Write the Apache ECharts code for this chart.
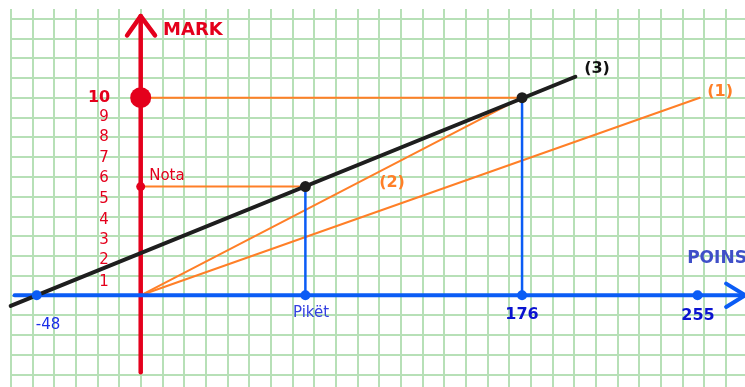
<!DOCTYPE html>
<html>
<head>
<meta charset="utf-8">
<script src="https://cdn.jsdelivr.net/npm/echarts@6/dist/echarts.min.js"></script>
<style>
  html, body { margin: 0; padding: 0; background: #fff; }
  #chart { width: 745px; height: 387px; }
</style>
</head>
<body>
<div id="chart"></div>
<script>
// valeurs (x = points, y = note)
const yTickText = ['1', '2', '3', '4', '5', '6', '7', '8', '9']
const yTickPos = [0.69, 1.79, 2.8, 3.81, 4.87, 5.92, 6.93, 8.0, 9.04]
const xMarkText = ['-48', 'Pikët', '176', '255']
const xMarkPos = [-48, 76, 176, 257]
const xLabelPos = [[-42.8, -1.5], [78.6, -0.9], [176, -1.0], [257.2, -1.05]]

const line1 = [[0, 0], [258, 10]]
const line2 = [[0, 0], [176, 10]]
const line3 = [[-60, -0.54], [200.6, 11.06]]
const notaPoint = [76, 5.5]
const maxPoint = [176, 10]

const yAxisLine = [[0, -3.9], [0, 14.13]]
const yArrow = [[-6.3, 13.15], [0, 14.13], [6.6, 13.15]]
const xAxisLine = [[-58.2, 0], [279, 0]]
const xArrow = [[270.2, 0.59], [279, 0], [270.2, -0.59]]

const RED = '#e4001c'
const ORANGE = '#ff7f27'
const BLUE = '#0b5cf5'
const FONT = 'DejaVu Sans'

const chart = echarts.init(document.getElementById('chart'))

const seg = (data, color, width, z) => ({
  type: 'line',
  data,
  symbol: 'none',
  silent: true,
  z,
  lineStyle: { color, width, cap: 'round', join: 'round' }
})

const txt = (value, text, style) => ({
  value,
  label: Object.assign({
    show: true,
    formatter: text,
    position: 'inside',
    align: 'center',
    verticalAlign: 'middle',
    fontFamily: FONT
  }, style)
})

const labels = [
  txt([24.1, 13.43], 'MARK', { color: RED, fontSize: 18, fontWeight: 'bold' }),
  txt([-19.2, 10], '10', { color: RED, fontSize: 16, fontWeight: 'bold' }),
  txt([12.1, 6.05], 'Nota', { color: RED, fontSize: 15 }),
  txt([252.2, 1.84], 'POINS', { color: '#3f4fc8', fontSize: 17, fontWeight: 'bold', align: 'left' }),
  txt([267.4, 10.29], '(1)', { color: ORANGE, fontSize: 16, fontWeight: 'bold' }),
  txt([116, 5.68], '(2)', { color: ORANGE, fontSize: 16, fontWeight: 'bold' }),
  txt([210.6, 11.45], '(3)', { color: '#111', fontSize: 16, fontWeight: 'bold' })
]
yTickText.forEach((t, i) => {
  labels.push(txt([-16.9, yTickPos[i]], t, { color: RED, fontSize: 15 }))
})
xMarkText.forEach((t, i) => {
  const bold = i >= 2
  labels.push(txt(xLabelPos[i], t, {
    color: bold ? '#0a14d0' : (i === 1 ? '#3340e0' : '#1a2ee8'),
    fontSize: bold ? 16 : 15,
    fontWeight: bold ? 'bold' : 'normal'
  }))
})

chart.setOption({
  animation: false,
  grid: { left: 10.7, top: -1.1, width: 736.7, height: 395.2, outerBoundsMode: 'none' },
  xAxis: {
    type: 'value', min: -60, max: 280, interval: 10,
    axisLine: { show: false }, axisTick: { show: false }, axisLabel: { show: false },
    splitLine: { show: true, lineStyle: { color: '#b7e0b7', width: 2 } }
  },
  yAxis: {
    type: 'value', min: -5, max: 15, interval: 1,
    axisLine: { show: false }, axisTick: { show: false }, axisLabel: { show: false },
    splitLine: { show: true, lineStyle: { color: '#b7e0b7', width: 2 } }
  },
  graphic: [{
    type: 'rect', z: 100, silent: true,
    shape: { x: 0, y: 0, width: 745, height: 9 },
    style: { fill: '#fff' }
  }],
  series: [
    seg(line1, ORANGE, 2, 2),
    seg(line2, ORANGE, 2, 2),
    seg([[0, maxPoint[1]], maxPoint], ORANGE, 2, 2),
    seg([[0, notaPoint[1]], notaPoint], ORANGE, 2, 2),
    seg([[notaPoint[0], 0], notaPoint], BLUE, 2.5, 2),
    seg([[maxPoint[0], 0], maxPoint], BLUE, 2.5, 2),
    seg(yAxisLine, RED, 4.5, 3),
    seg(yArrow, RED, 4.5, 3),
    seg(xAxisLine, BLUE, 4, 4),
    seg(xArrow, BLUE, 4, 4),
    seg(line3, '#1e1e1e', 4, 5),
    {
      type: 'scatter', z: 6, silent: true,
      symbolSize: 10,
      itemStyle: { color: BLUE, opacity: 1 },
      data: xMarkPos.map(x => [x, 0])
    },
    {
      type: 'scatter', z: 6, silent: true,
      symbolSize: 11,
      itemStyle: { color: '#1e1e1e', opacity: 1 },
      data: [notaPoint, maxPoint]
    },
    {
      type: 'scatter', z: 6, silent: true,
      itemStyle: { color: RED, opacity: 1 },
      data: [
        { value: [0, maxPoint[1]], symbolSize: 21 },
        { value: [0, notaPoint[1]], symbolSize: 9 }
      ]
    },
    {
      type: 'scatter', z: 7, silent: true,
      symbolSize: 0,
      itemStyle: { opacity: 1 },
      data: labels
    }
  ]
})
</script>
</body>
</html>
